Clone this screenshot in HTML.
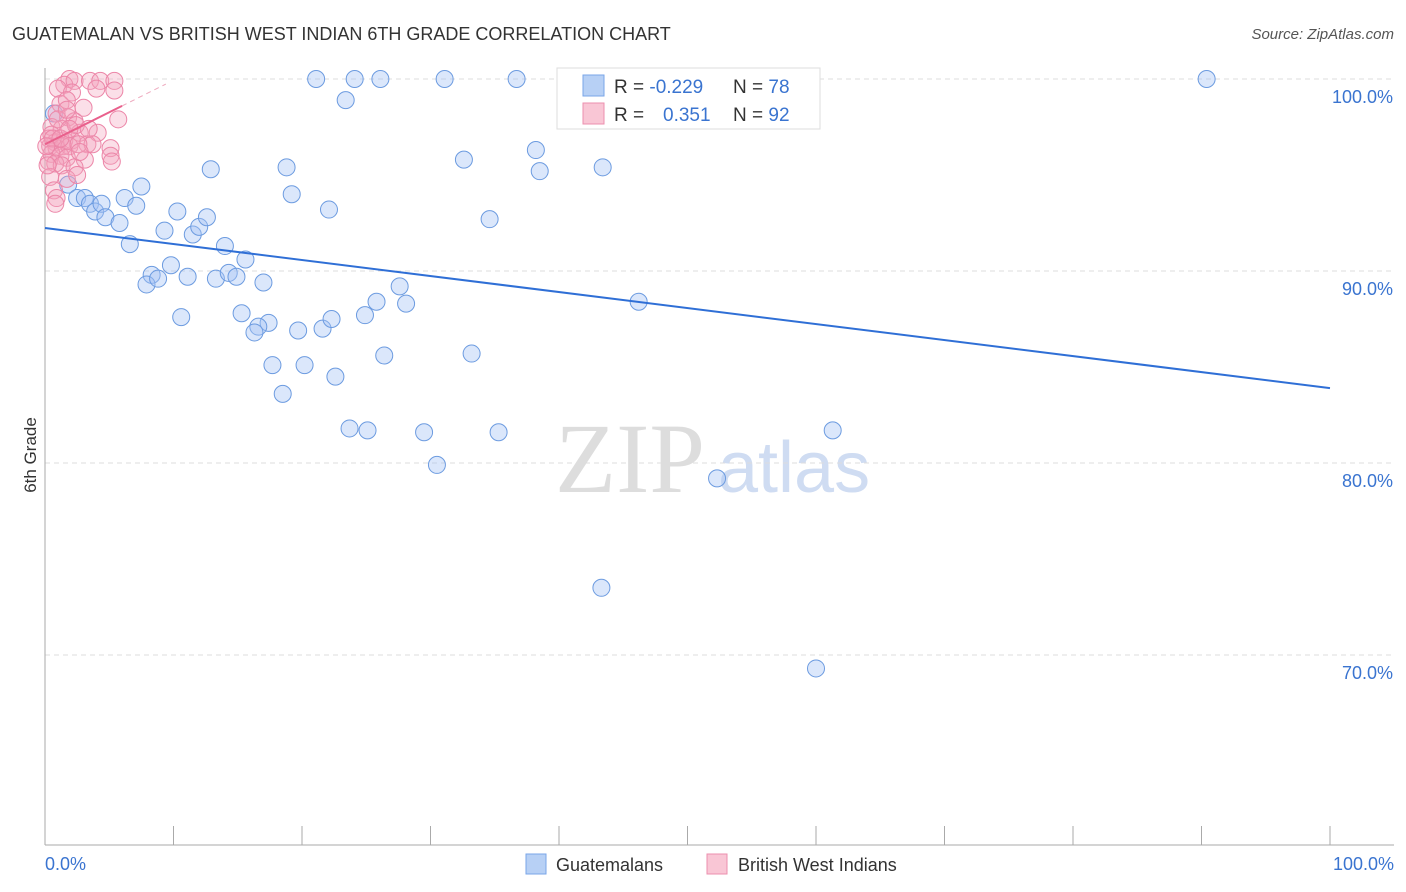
<!DOCTYPE html>
<html><head><meta charset="utf-8"><style>
body{margin:0;background:#fff;font-family:"Liberation Sans",sans-serif;}
svg{display:block}
</style></head><body>
<svg id="chart" width="1406" height="892">
<text x="12" y="40" font-size="18" fill="#333">GUATEMALAN VS BRITISH WEST INDIAN 6TH GRADE CORRELATION CHART</text>
<text x="1394" y="39" font-size="15" fill="#555" text-anchor="end" font-style="italic">Source: ZipAtlas.com</text>
<text x="36" y="455" font-size="17" fill="#333" text-anchor="middle" transform="rotate(-90 36 455)">6th Grade</text>
<text x="555" y="492" font-size="100" fill="#ddd" font-family="Liberation Serif,serif">ZIP</text>
<text x="718" y="492" font-size="72" fill="#cfdcf2">atlas</text>
<g id="grid"></g><g id="pts"></g><g id="trend"></g>
<g>
<rect x="557" y="68" width="263" height="61" fill="#fff" stroke="#ddd"/>
<rect x="583" y="75" width="21" height="21" fill="#b7d0f5" stroke="#7aa6e8"/>
<rect x="583" y="103" width="21" height="21" fill="#f9c6d5" stroke="#ec8fae"/>
<text x="614" y="93" font-size="19" fill="#333">R = <tspan fill="#3a74d0">-0.229</tspan><tspan x="733">N = </tspan><tspan fill="#3a74d0">78</tspan></text>
<text x="614" y="121" font-size="19" fill="#333">R = <tspan x="663" fill="#3a74d0">0.351</tspan><tspan x="733">N = </tspan><tspan fill="#3a74d0">92</tspan></text>
</g>
<g>
<rect x="526" y="854" width="20" height="20" fill="#b7d0f5" stroke="#7aa6e8"/>
<text x="556" y="871" font-size="18" fill="#333">Guatemalans</text>
<rect x="707" y="854" width="20" height="20" fill="#f9c6d5" stroke="#ec8fae"/>
<text x="738" y="871" font-size="18" fill="#333">British West Indians</text>
</g>
</svg>
<script>
const yTicks=[100,90,80,70];
const xLabels=["0.0%","100.0%"];
const blueX=[21.1,24.1,26.1,31.1,36.7,58.5,90.4,23.4,0.7,32.6,38.2,38.5,43.4,12.9,18.8,19.2,7.5,1.8,2.5,3.1,3.5,3.9,4.4,4.7,5.8,6.2,7.1,10.3,9.3,11.5,12,12.6,14,6.6,22.1,34.6,15.6,8.3,7.9,8.8,9.8,11.1,13.3,14.3,14.9,17.0,27.6,25.8,28.1,46.2,10.6,15.3,17.4,16.6,16.3,19.7,21.6,22.3,24.9,26.4,33.2,17.7,20.2,22.6,18.5,23.7,25.1,29.5,35.3,61.3,30.5,52.3,43.3,60.0];
const blueY=[100,100,100,100,100,100,100,98.9,98.2,95.8,96.3,95.2,95.4,95.3,95.4,94.0,94.4,94.5,93.8,93.8,93.5,93.1,93.5,92.8,92.5,93.8,93.4,93.1,92.1,91.9,92.3,92.8,91.3,91.4,93.2,92.7,90.6,89.8,89.3,89.6,90.3,89.7,89.6,89.9,89.7,89.4,89.2,88.4,88.3,88.4,87.6,87.8,87.3,87.1,86.8,86.9,87.0,87.5,87.7,85.6,85.7,85.1,85.1,84.5,83.6,81.8,81.7,81.6,81.6,81.7,79.9,79.2,73.5,69.3];
const pinkX=[1.9,1.5,2.3,3.5,4.3,5.4,1,2.1,4,5.4,1.2,1.7,3,0.9,1.8,2.3,5.7,0.5,1.3,2.7,4.1,0.3,0.8,1.5,2.1,3.3,3.7,0.4,0.9,1.4,1.9,2.6,5.1,0.5,1.2,1.7,3.1,5.1,5.2,0.3,0.8,1.3,2.3,0.4,1.7,2.5,0.7,0.9,0.8,0.2,0.5,1,1.7,2.4,3.4,0.6,1.2,1.9,2.7,0.1];
const pinkY=[100,99.7,99.9,99.9,99.9,99.9,99.5,99.3,99.5,99.4,98.7,98.9,98.5,98.2,98,97.8,97.9,97.5,97.4,97.2,97.2,96.9,96.7,96.8,96.8,96.6,96.6,96.5,96.4,96.5,96.5,96.6,96.4,96.1,96,95.9,95.8,96,95.7,95.7,95.6,95.5,95.4,94.9,94.8,95,94.2,93.8,93.5,95.5,97.1,97.9,98.4,97.6,97.4,96.9,96.9,97.4,96.2,96.5];
const blueTrend=[92.24,83.9];
const pinkTrend=[96.6,98.6];
const NS="http://www.w3.org/2000/svg";
const X=v=>45+v*12.85, Y=v=>79+(100-v)*19.2;
function mk(tag,attrs,parent){const e=document.createElementNS(NS,tag);for(const k in attrs)e.setAttribute(k,attrs[k]);parent.appendChild(e);return e;}
const grid=document.getElementById('grid');
yTicks.forEach(t=>{
 const l=mk('line',{x1:45,x2:1394,y1:Y(t),y2:Y(t),stroke:'#ddd','stroke-dasharray':'5,4'},grid);
 
 
 const tx=mk('text',{x:1393,y:Y(t)+24,'font-size':18,fill:'#3a74d0','text-anchor':'end'},grid);
 tx.textContent=t.toFixed(1)+'%';
 
 
});
mk('line',{x1:45,x2:45,y1:68,y2:845,stroke:'#aaa'},grid);
mk('line',{x1:45,x2:1394,y1:845,y2:845,stroke:'#aaa'},grid);
for(let i=0;i<=10;i++){const t=mk('line',{x1:X(i*10),x2:X(i*10),y1:826,y2:845,stroke:'#aaa'},grid);
 
 }
[[0,'start',45],[1,'end',1394]].forEach(([i,a,x])=>{const t=mk('text',{x:x,y:870,'font-size':18,fill:'#3a74d0','text-anchor':a},grid);t.textContent=xLabels[i];
 
 });
const pts=document.getElementById('pts');
blueX.forEach((v,i)=>{const c=mk('circle',{cx:X(v),cy:Y(blueY[i]),r:8.5,fill:'rgba(164,194,244,0.4)',stroke:'#6c9be0','stroke-width':1},pts);
 
 });
pinkX.forEach((v,i)=>{const c=mk('circle',{cx:X(v),cy:Y(pinkY[i]),r:8.5,fill:'rgba(244,164,190,0.35)',stroke:'#ec86a8','stroke-width':1},pts);
 
 });
const tr=document.getElementById('trend');
const bl=mk('line',{x1:X(0),y1:Y(blueTrend[0]),x2:X(100),y2:Y(blueTrend[1]),stroke:'#2f6fd6','stroke-width':2},tr);


const slope=(pinkTrend[1]-pinkTrend[0])/6;
const pl=mk('line',{x1:X(0),y1:Y(pinkTrend[0]),x2:X(6),y2:Y(pinkTrend[1]),stroke:'#e9608c','stroke-width':2},tr);


const pd=mk('line',{x1:X(6),y1:Y(pinkTrend[1]),x2:X(9.4),y2:Y(pinkTrend[1]+slope*3.4),stroke:'#eeaabf','stroke-width':1,'stroke-dasharray':'5,4'},tr);


</script>
</body></html>
